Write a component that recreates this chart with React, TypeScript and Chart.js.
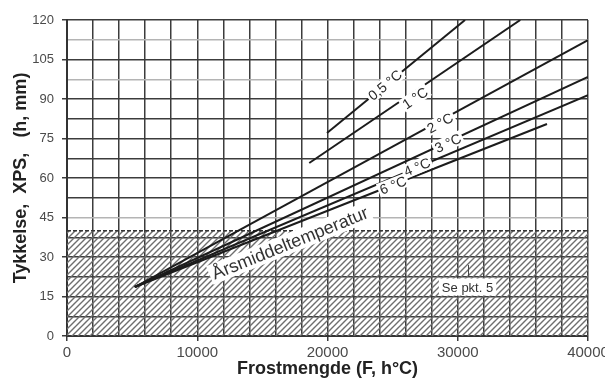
import React, { useEffect, useRef } from 'react';
import { Chart, registerables } from 'chart.js';

Chart.register(...registerables);

// ---- data ----
const xLabelTicks = [0, 10000, 20000, 30000, 40000];
const yLabelTicks = [0, 15, 30, 45, 60, 75, 90, 105, 120];
const xGridStep = 2000;
const yGridStep = 7.5;
const yLightGrid = [112.5, 97.5, 45];

const hatchLimit = 40;

const curveNames = ['0,5 °C', '1 °C', '2 °C', '3 °C', '4 °C', '6 °C'];
const frost05 = [19960, 30560];
const thick05 = [77.1, 120];
const frost1 = [18600, 34800];
const thick1 = [65.7, 120];
const frost2 = [5200, 40000];
const thick2 = [18.6, 112.4];
const frost3 = [5200, 40000];
const thick3 = [18.6, 98.4];
const frost4 = [5200, 40000];
const thick4 = [18.6, 91.5];
const frost6 = [5200, 36850];
const thick6 = [18.6, 80.5];

const labelFrost = [24415, 26720, 28640, 29250, 26870, 25030];
const labelThick = [95.3, 90.4, 80.9, 73.3, 64.2, 57.3];

const annualText = 'Årsmiddeltemperatur';
const annualPos = [17120, 35.3];
const noteText = 'Se pkt. 5';
const notePos = [30750, 18.6];

const curves = [
  [frost05, thick05],
  [frost1, thick1],
  [frost2, thick2],
  [frost3, thick3],
  [frost4, thick4],
  [frost6, thick6],
];

function range(step: number, max: number) {
  const out: number[] = [];
  for (let v = 0; v <= max + 1e-9; v += step) out.push(Math.round(v * 100) / 100);
  return out;
}

function makeHatch(): CanvasPattern | string {
  const c = document.createElement('canvas');
  c.width = 6;
  c.height = 6;
  const g = c.getContext('2d');
  if (!g) return '#bbb';
  g.strokeStyle = '#6e6e6e';
  g.lineWidth = 1.4;
  g.beginPath();
  g.moveTo(0, 6);
  g.lineTo(6, 0);
  g.moveTo(-1, 1);
  g.lineTo(1, -1);
  g.moveTo(5, 7);
  g.lineTo(7, 5);
  g.stroke();
  return g.createPattern(c, 'repeat') || '#bbb';
}

const annotPlugin = {
  id: 'annot',
  afterDatasetsDraw(chart: any) {
    const { ctx } = chart;
    const xs = chart.scales.x;
    const ys = chart.scales.y;
    const draw = (text: string, vx: number, vy: number, angle: number, size: number, color: string, padX: number, padY: number) => {
      const px = xs.getPixelForValue(vx);
      const py = ys.getPixelForValue(vy);
      ctx.save();
      ctx.translate(px, py);
      ctx.rotate(angle);
      ctx.font = `${size}px "Liberation Sans", Arial, sans-serif`;
      const w = ctx.measureText(text).width;
      ctx.fillStyle = '#ffffff';
      ctx.fillRect(-w / 2 - padX, -size / 2 - padY, w + padX * 2, size + padY * 2);
      ctx.fillStyle = color;
      ctx.textAlign = 'center';
      ctx.textBaseline = 'middle';
      ctx.fillText(text, 0, 1);
      ctx.restore();
    };
    curves.forEach(([fx, ty], i) => {
      const x0 = xs.getPixelForValue(fx[0]);
      const x1 = xs.getPixelForValue(fx[fx.length - 1]);
      const y0 = ys.getPixelForValue(ty[0]);
      const y1 = ys.getPixelForValue(ty[ty.length - 1]);
      const ang = Math.atan2(y1 - y0, x1 - x0);
      draw(curveNames[i], labelFrost[i], labelThick[i], ang, 14, '#2a2a2a', 2, 0);
    });
    draw(annualText, annualPos[0], annualPos[1], (-22 * Math.PI) / 180, 18, '#333333', 3, 1);
    // small pointer above the note
    const nx = xs.getPixelForValue(notePos[0]);
    const ny = ys.getPixelForValue(notePos[1]);
    ctx.save();
    ctx.strokeStyle = '#444';
    ctx.lineWidth = 1;
    ctx.beginPath();
    ctx.moveTo(nx + 1, ny - 10);
    ctx.lineTo(nx + 1, ny - 22);
    ctx.stroke();
    ctx.restore();
    draw(noteText, notePos[0], notePos[1], 0, 13, '#333333', 3, 2);
  },
};

export default function App() {
  const ref = useRef<HTMLCanvasElement | null>(null);

  useEffect(() => {
    if (!ref.current) return;
    const hatch = makeHatch();
    const lineSets = curves.map(([fx, ty], i) => ({
      label: curveNames[i],
      data: fx.map((v, k) => ({ x: v, y: ty[k] })),
      borderColor: '#1c1c1c',
      borderWidth: 2,
      pointRadius: 0,
      fill: false,
      tension: 0,
    }));
    const chart = new Chart(ref.current, {
      type: 'line',
      data: {
        datasets: [
          ...lineSets,
          {
            label: 'hatch',
            data: [
              { x: 0, y: hatchLimit },
              { x: 40000, y: hatchLimit },
            ],
            borderColor: '#333',
            borderWidth: 1.5,
            borderDash: [4, 2],
            pointRadius: 0,
            fill: 'origin',
            backgroundColor: hatch as any,
          },
        ],
      },
      options: {
        responsive: false,
        animation: false,
        layout: { padding: { top: 20, right: 17, left: 0, bottom: 0 } },
        plugins: {
          legend: { display: false },
          tooltip: { enabled: false },
        },
        scales: {
          x: {
            type: 'linear',
            min: 0,
            max: 40000,
            afterBuildTicks: (s: any) => {
              s.ticks = range(xGridStep, 40000).map((v) => ({ value: v }));
            },
            afterFit: (s: any) => {
              s.height = 49;
              s.paddingLeft = 0;
              s.paddingRight = 0;
            },
            ticks: {
              autoSkip: false,
              maxRotation: 0,
              minRotation: 0,
              padding: 3,
              color: '#4a4a4a',
              font: { family: '"Liberation Sans", Arial, sans-serif', size: 15 },
              callback: (v: any) => (xLabelTicks.includes(Number(v)) ? String(v) : ''),
            },
            grid: {
              color: '#3c3c3c',
              lineWidth: 1.5,
              tickLength: 5,
              tickColor: (c: any) => (c.tick && xLabelTicks.includes(c.tick.value) ? '#3c3c3c' : 'rgba(0,0,0,0)'),
            },
            border: { color: '#333', width: 2 },
            title: {
              display: true,
              text: 'Frostmengde (F, h°C)',
              color: '#222',
              font: { family: '"Liberation Sans", Arial, sans-serif', size: 18, weight: 'bold' },
              padding: { top: 0, bottom: 5 },
            },
          },
          y: {
            type: 'linear',
            min: 0,
            max: 120,
            afterBuildTicks: (s: any) => {
              s.ticks = range(yGridStep, 120).map((v) => ({ value: v }));
            },
            afterFit: (s: any) => {
              s.width = 67;
            },
            ticks: {
              autoSkip: false,
              padding: 8,
              color: '#4a4a4a',
              font: { family: '"Liberation Sans", Arial, sans-serif', size: 13 },
              callback: (v: any) => (yLabelTicks.includes(Number(v)) ? String(v) : ''),
            },
            grid: {
              color: (c: any) => (c.tick && yLightGrid.includes(c.tick.value) ? '#b4b4b4' : '#3c3c3c'),
              lineWidth: 1.5,
              tickLength: 5,
              tickColor: (c: any) => (c.tick && yLabelTicks.includes(c.tick.value) ? '#3c3c3c' : 'rgba(0,0,0,0)'),
            },
            border: { color: '#333', width: 2 },
            title: {
              display: true,
              text: 'Tykkelse,  XPS,   (h, mm)',
              color: '#222',
              font: { family: '"Liberation Sans", Arial, sans-serif', size: 18, weight: 'bold' },
              padding: { top: 10, bottom: 0 },
            },
          },
        },
      },
      plugins: [annotPlugin],
    });
    return () => chart.destroy();
  }, []);

  return (
    <div style={{ position: 'fixed', left: 0, top: 0, width: 605, height: 385, background: '#fff', overflow: 'hidden' }}>
      <canvas ref={ref} width={605} height={385} style={{ display: 'block' }} />
    </div>
  );
}
